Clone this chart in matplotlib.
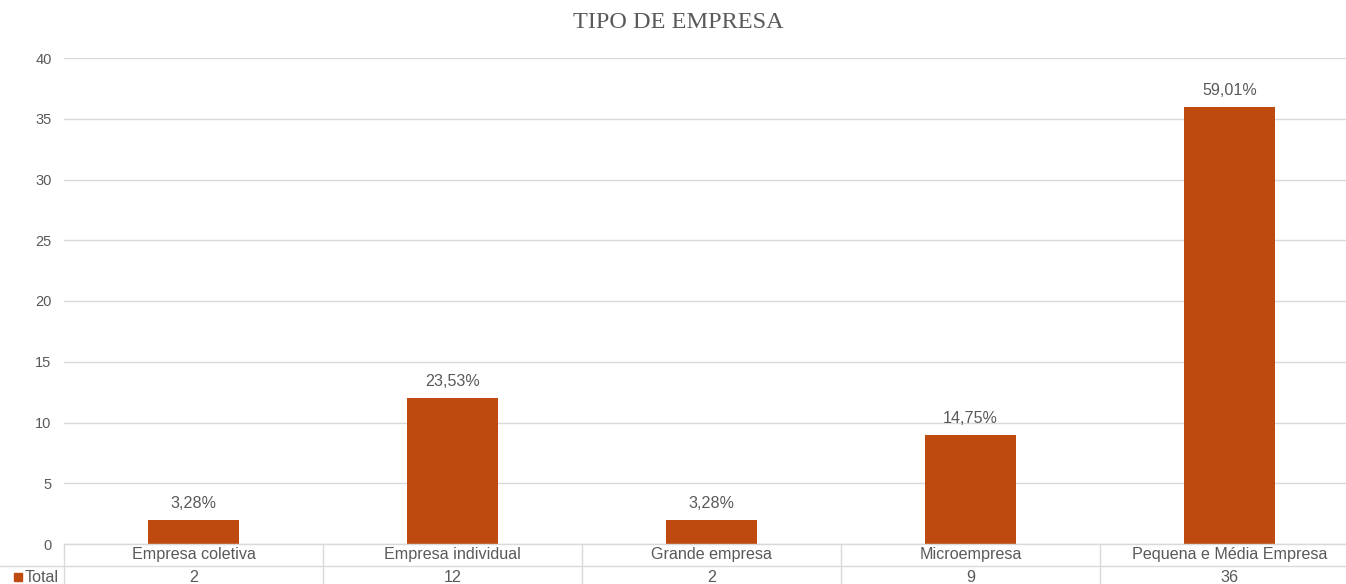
import matplotlib
matplotlib.use("Agg")
import matplotlib.pyplot as plt
from matplotlib.lines import Line2D
from matplotlib.patches import Rectangle

categories = ["Empresa coletiva", "Empresa individual", "Grande empresa",
              "Microempresa", "Pequena e Média Empresa"]
totals = [2, 12, 2, 9, 36]
pct_labels = ["3,28%", "23,53%", "3,28%", "14,75%", "59,01%"]
series_name = "Total"
title = "TIPO DE EMPRESA"

W, H = 1346, 584
bar_color = "#BF4A10"
grid_color = "#D9D9D9"
text_color = "#595959"
sans = ["Liberation Sans", "DejaVu Sans"]

fig = plt.figure(figsize=(W / 100, H / 100), dpi=100)

# plot area in pixels (left, right, top, bottom measured from the top edge)
px_l, px_r, px_top, px_bot = 64, 1359, 58, 544
ax = fig.add_axes([px_l / W, 1 - px_bot / H, (px_r - px_l) / W, (px_bot - px_top) / H])

x = list(range(len(categories)))
bars = ax.bar(x, totals, width=0.35, color=bar_color, zorder=3)
ax.set_xlim(-0.5, len(categories) - 0.5)
ax.set_ylim(0, 40)
ax.set_yticks(range(0, 41, 5))
ax.yaxis.grid(True, color=grid_color, linewidth=1)
ax.set_axisbelow(True)
ax.set_xticks([])
for s in ax.spines.values():
    s.set_visible(False)
ax.tick_params(axis="y", length=0, pad=9, labelsize=10.5, labelcolor=text_color)
for lab in ax.get_yticklabels():
    lab.set_family(sans)

for b, lbl in zip(bars, pct_labels):
    ax.annotate(lbl, (b.get_x() + b.get_width() / 2, b.get_height()),
                xytext=(0, 16.5), textcoords="offset pixels",
                ha="center", va="center", fontsize=11.6, color=text_color,
                family=sans)

fig.text(678 / W, 1 - 23 / H, title, ha="center", va="center", fontsize=17.5,
         color=text_color, family=["Liberation Serif", "DejaVu Serif"])

# data table below the plot
def fx(p):
    return p / W

def fy(p):
    return 1 - p / H

row1_top, row_div, row2_bot = 544, 566, 590
col_w = (px_r - px_l) / len(categories)
line_kw = dict(color=grid_color, linewidth=1, transform=fig.transFigure)
fig.add_artist(Line2D([fx(px_l), fx(px_r)], [fy(row1_top)] * 2, **line_kw))
fig.add_artist(Line2D([0, fx(px_r)], [fy(row_div)] * 2, **line_kw))
for i in range(len(categories)):
    xe = px_l + i * col_w
    fig.add_artist(Line2D([fx(xe)] * 2, [fy(row1_top), fy(row2_bot)], **line_kw))

for i, (c, v) in enumerate(zip(categories, totals)):
    xc = px_l + (i + 0.5) * col_w
    fig.text(fx(xc), fy(555), c, ha="center", va="center", fontsize=11.6,
             color=text_color, family=sans)
    fig.text(fx(xc), fy(577), str(v), ha="center", va="center", fontsize=11.6,
             color=text_color, family=sans)

fig.add_artist(Rectangle((fx(14), fy(581)), fx(8), 8 / H, color=bar_color,
                         transform=fig.transFigure))
fig.text(fx(25), fy(577), series_name, ha="left", va="center", fontsize=11.6,
         color=text_color, family=sans)

fig.savefig("out.png", dpi=100)
